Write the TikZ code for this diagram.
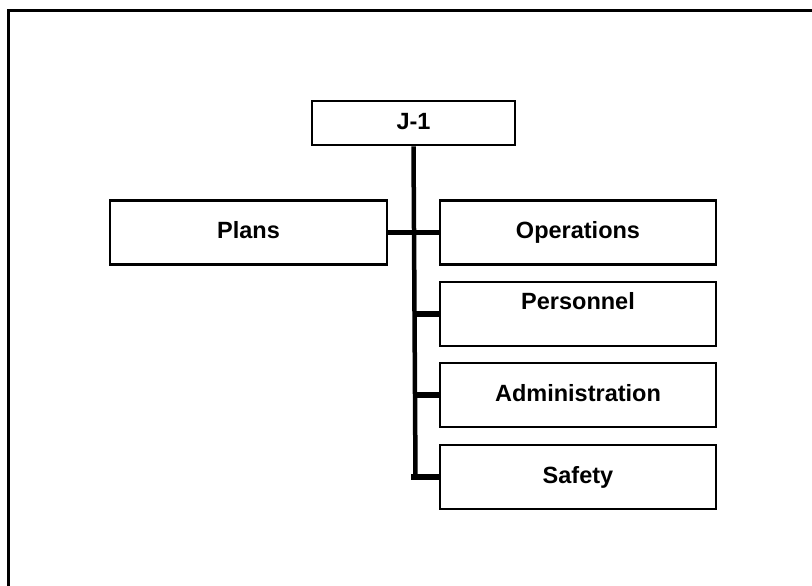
\documentclass[tikz,border=0pt]{standalone}
\usepackage{fontspec}
\setmainfont{Liberation Sans}
\usetikzlibrary{positioning}

\tikzset{
  unit/.style={draw, line width=2.8pt, font=\bfseries\fontsize{23.5}{26}\selectfont,
    inner sep=0pt, text height=17pt, text depth=5pt,
    minimum width=276pt, minimum height=64pt},
  trunk/.style={line width=4.5pt},
  branch/.style={line width=5.5pt}
}

\begin{document}
\begin{tikzpicture}[x=1pt,y=-1pt]

\useasboundingbox (0,0) rectangle (812,586);
\clip (0,0) rectangle (812,586);

\draw[line width=3pt] (8.5,10.5) rectangle (830,600);

\node[unit, minimum width=203pt, minimum height=44pt] (jone) at (413.5,123) {J-1};
\node[unit, minimum width=277pt] (plans) at (248.5,232.5) {Plans};
\node[unit] (ops) at (578,232.5) {Operations};
\node[unit, label={[anchor=north, inner sep=0pt, yshift=-12pt,
  font=\bfseries\fontsize{23.5}{26}\selectfont]north:Personnel}] (pers) at (578,314) {};
\node[unit] (admin) at (578,395) {Administration};
\node[unit] (safety) at (578,477) {Safety};

\draw[trunk] (jone.south) -- ([xshift=2pt]jone.south |- safety.west);
\draw[branch] (plans.east) -- (ops.west);
\draw[branch] (pers.west) -- (jone.south |- pers.west);
\draw[branch] (admin.west) -- (jone.south |- admin.west);
\draw[branch] (safety.west) -- ([xshift=-2.2pt]jone.south |- safety.west);

\end{tikzpicture}
\end{document}
